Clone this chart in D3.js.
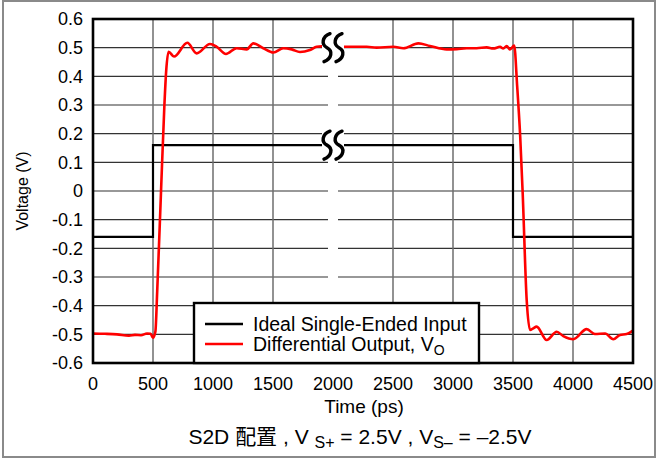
<!DOCTYPE html>
<html><head><meta charset="utf-8">
<script src="https://cdn.jsdelivr.net/npm/d3@7"></script>
<style>
body{margin:0;background:#fff}
text{font-family:"Liberation Sans",Arial,Helvetica,sans-serif;fill:#000}
</style>
</head><body>
<svg id="c" width="657" height="459"></svg>
<script>
// ---- data ----
const xTicks = [0,500,1000,1500,2000,2500,3000,3500,4000,4500];
const yTicks = [-0.6,-0.5,-0.4,-0.3,-0.2,-0.1,0,0.1,0.2,0.3,0.4,0.5,0.6];
const yTickLabels = ["-0.6","-0.5","-0.4","-0.3","-0.2","-0.1","0","0.1","0.2","0.3","0.4","0.5","0.6"];
const inputTime = [0,500,500,3500,3500,4500];
const inputVolt = [-0.16,-0.16,0.16,0.16,-0.16,-0.16];
const outTime = [0,100,200,300,350,400,450,480,500,520,535,567,595,610,630,675,786,864,975,1031,1108,1197,1281,1336,1419,1503,1586,1656,1725,1808,1864,1947,2000,2114,2281,2364,2503,2586,2711,2808,2947,3031,3114,3197,3281,3336,3392,3419,3447,3475,3510,3535,3560,3580,3614,3642,3669,3697,3781,3864,3919,4003,4114,4183,4267,4336,4392,4447,4500];
const outVolt = [-0.497,-0.498,-0.5,-0.505,-0.502,-0.503,-0.497,-0.498,-0.512,-0.49,-0.35,0.0,0.3,0.42,0.486,0.469,0.517,0.48,0.513,0.503,0.478,0.498,0.494,0.515,0.498,0.483,0.498,0.494,0.485,0.492,0.503,0.506,0.505,0.503,0.503,0.5,0.503,0.498,0.515,0.506,0.494,0.495,0.498,0.498,0.501,0.497,0.503,0.497,0.506,0.494,0.507,0.364,0.19,0.0,-0.38,-0.485,-0.479,-0.473,-0.52,-0.491,-0.506,-0.517,-0.482,-0.499,-0.497,-0.517,-0.502,-0.499,-0.487];
const seriesNames = ["Ideal Single-Ended Input","Differential Output, V"];
const breakTime = 2000;

// ---- layout ----
const svg = d3.select("#c");
const x = d3.scaleLinear().domain([0,4500]).range([93,633]);
const y = d3.scaleLinear().domain([-0.6,0.6]).range([363,19]);
const FS = 18;

// outer frame
svg.append("rect").attr("x",3).attr("y",1).attr("width",652).attr("height",456)
  .attr("fill","none").attr("stroke","#8a8a8a").attr("stroke-width",2);

// grid
const gapL = x(breakTime)-5, gapR = x(breakTime)+5;
const g = svg.append("g");
yTicks.slice(1,-1).forEach(v=>{
  g.append("line").attr("x1",x(0)).attr("x2",gapL).attr("y1",y(v)).attr("y2",y(v)).attr("stroke","#333").attr("stroke-width",1.1);
  g.append("line").attr("x1",gapR).attr("x2",x(4500)).attr("y1",y(v)).attr("y2",y(v)).attr("stroke","#333").attr("stroke-width",1.1);
});
xTicks.slice(1,-1).filter(t=>t!==breakTime).forEach(t=>{
  g.append("line").attr("x1",x(t)).attr("x2",x(t)).attr("y1",y(0.6)).attr("y2",y(-0.6)).attr("stroke","#6e6e6e").attr("stroke-width",1.5);
});

// lines
const lineGen = d3.line().x(d=>x(d[0])).y(d=>y(d[1]));
svg.append("path").datum(inputTime.map((t,i)=>[t,inputVolt[i]]))
  .attr("d",lineGen).attr("fill","none").attr("stroke","#000").attr("stroke-width",2.2);
svg.append("path").datum(outTime.map((t,i)=>[t,outVolt[i]]))
  .attr("d",lineGen.curve(d3.curveMonotoneX)).attr("fill","none").attr("stroke","#ff0000").attr("stroke-width",2.6)
  .attr("stroke-linejoin","round");

// break symbols
function breakSym(cx, cy){
  const b = svg.append("g");
  b.append("rect").attr("x",cx-11).attr("y",cy-15).attr("width",22).attr("height",30).attr("fill","#fff");
  [-6,6].forEach(dx=>{
    const p = d3.path();
    const xx = cx+dx;
    p.moveTo(xx+3, cy-14);
    p.bezierCurveTo(xx-5, cy-11, xx-6, cy-3, xx, cy);
    p.bezierCurveTo(xx+6, cy+3, xx+5, cy+11, xx-3, cy+14);
    b.append("path").attr("d",p.toString()).attr("fill","none").attr("stroke","#000").attr("stroke-width",3.4).attr("stroke-linecap","round");
  });
}
breakSym(x(breakTime), y(0.5));
breakSym(x(breakTime), y(0.16));

// plot frame
svg.append("rect").attr("x",x(0)).attr("y",y(0.6)).attr("width",x(4500)-x(0)).attr("height",y(-0.6)-y(0.6))
  .attr("fill","none").attr("stroke","#000").attr("stroke-width",2.6);

// axes labels
yTicks.forEach((v,i)=>{
  svg.append("text").attr("x",x(0)-10).attr("y",y(v)).attr("dy","0.36em").attr("text-anchor","end")
    .style("font-size",FS+"px").text(yTickLabels[i]);
});
xTicks.forEach(t=>{
  svg.append("text").attr("x",x(t)).attr("y",390).attr("text-anchor","middle")
    .style("font-size",FS+"px").text(t);
});
svg.append("text").attr("transform",`translate(28,${(y(0.6)+y(-0.6))/2}) rotate(-90)`).attr("text-anchor","middle")
  .style("font-size","16px").text("Voltage (V)");
svg.append("text").attr("x",(x(0)+x(4500))/2+1).attr("y",413).attr("text-anchor","middle")
  .style("font-size","19px").text("Time (ps)");

// legend
const lg = svg.append("g");
lg.append("rect").attr("x",194).attr("y",303).attr("width",285).attr("height",60)
  .attr("fill","#fff").attr("stroke","#000").attr("stroke-width",2.4);
const colors = ["#000","#ff0000"];
seriesNames.forEach((n,i)=>{
  const yy = 324 + i*20;
  lg.append("line").attr("x1",205).attr("x2",243).attr("y1",yy).attr("y2",yy).attr("stroke",colors[i]).attr("stroke-width",2.6);
  const t = lg.append("text").attr("x",253).attr("y",yy+7).style("font-size","19.5px").text(n);
  if(i===1) t.append("tspan").attr("dy",4).style("font-size","14px").text("O");
});

// caption
const cap = svg.append("text").attr("x",360).attr("y",444).attr("text-anchor","middle").style("font-size","21px");
cap.append("tspan").text("S2D ");
cap.append("tspan").style("font-family","'Noto Sans CJK SC',sans-serif").text("配置");
cap.append("tspan").text(" , V ");
cap.append("tspan").attr("dy",4).style("font-size","16px").text("S+");
cap.append("tspan").attr("dy",-4).text(" = 2.5V , V");
cap.append("tspan").attr("dy",4).style("font-size","16px").text("S–");
cap.append("tspan").attr("dy",-4).text(" = –2.5V");
</script>
</body></html>
